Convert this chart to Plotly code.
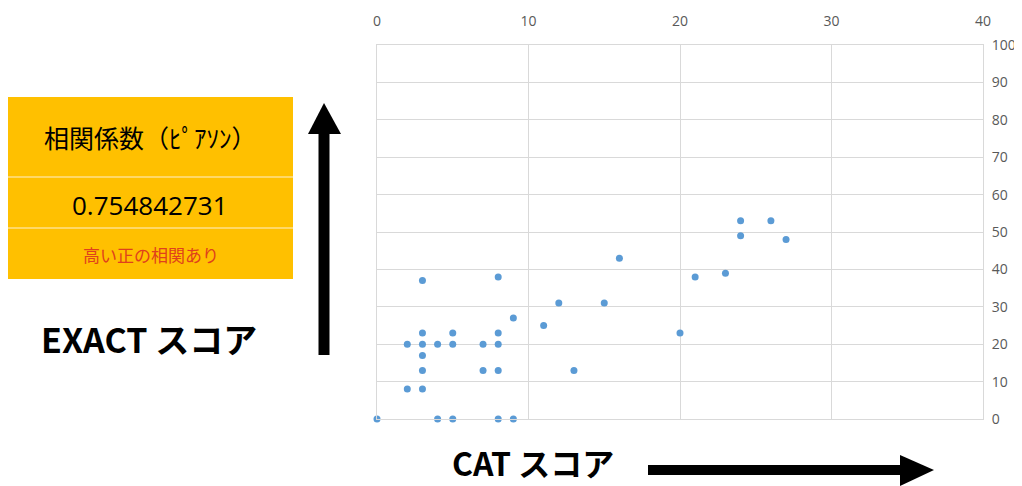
import plotly.graph_objects as go

# Data
cat_score = [0, 4, 5, 8, 9, 2, 3, 3, 7, 8, 13, 3, 2, 3, 4, 5, 7, 8, 3, 5, 8,
             9, 11, 12, 15, 20, 3, 8, 16, 21, 23, 24, 24, 26, 27]
exact_score = [0, 0, 0, 0, 0, 8, 8, 13, 13, 13, 13, 17, 20, 20, 20, 20, 20, 20, 23, 23, 23,
               27, 25, 31, 31, 23, 37, 38, 43, 38, 39, 53, 49, 53, 48]
x_ticks = [0, 10, 20, 30, 40]
y_ticks = [0, 10, 20, 30, 40, 50, 60, 70, 80, 90, 100]

table_title = "相関係数（ﾋﾟｱｿﾝ）"
table_value = "0.754842731"
table_note = "高い正の相関あり"
y_label = "EXACT スコア"
x_label = "CAT スコア"

# page body has an 8px margin: the figure is offset by 8px in the window
OFF = 8
W, H = 1022 - OFF, 486 - OFF
L, R, T, B = 377 - OFF, 47 - OFF, 45 - OFF, 67
PW, PH = W - L - R, H - T - B


def px(x):
    return (x - OFF - L) / PW


def py(y):
    return (H - B - (y - OFF)) / PH


fig = go.Figure()
fig.add_trace(go.Scatter(
    x=cat_score, y=exact_score, mode="markers",
    marker=dict(color="#5B9BD5", size=7),
    showlegend=False, hoverinfo="x+y", cliponaxis=False,
))

shapes = []
# table
shapes.append(dict(type="rect", xref="paper", yref="paper",
                   x0=px(8), x1=px(293), y0=py(279), y1=py(97),
                   fillcolor="#FFC000", line=dict(width=0), layer="above"))
for ys in (177, 228):
    shapes.append(dict(type="line", xref="paper", yref="paper",
                       x0=px(8), x1=px(293), y0=py(ys), y1=py(ys),
                       line=dict(color="#FFE08A", width=1.5), layer="above"))
# vertical arrow
shapes.append(dict(type="rect", xref="paper", yref="paper",
                   x0=px(318.5), x1=px(329.5), y0=py(355), y1=py(132),
                   fillcolor="black", line=dict(width=0), layer="above"))
shapes.append(dict(type="path", xref="paper", yref="paper",
                   path=f"M {px(308)} {py(134)} L {px(324)} {py(103)} L {px(341)} {py(134)} Z",
                   fillcolor="black", line=dict(width=0), layer="above"))
# horizontal arrow
shapes.append(dict(type="rect", xref="paper", yref="paper",
                   x0=px(648), x1=px(902), y0=py(475), y1=py(465),
                   fillcolor="black", line=dict(width=0), layer="above"))
shapes.append(dict(type="path", xref="paper", yref="paper",
                   path=f"M {px(900)} {py(455)} L {px(934)} {py(470)} L {px(900)} {py(486)} Z",
                   fillcolor="black", line=dict(width=0), layer="above"))

jp = "Noto Sans CJK JP"


def ann(text, x, y, family, size, color):
    return dict(text=text, x=px(x), y=py(y), xref="paper", yref="paper",
                xanchor="center", yanchor="middle", showarrow=False,
                font=dict(family=family, size=size, color=color))


annotations = [
    ann(table_title, 150, 137, jp, 25, "black"),
    ann(table_value, 150, 205, "Open Sans", 26, "black"),
    ann(table_note, 151, 254, jp, 17, "#E0401C"),
    ann(f"<b>{y_label}</b>", 149, 338, jp, 34, "black"),
    ann(f"<b>{x_label}</b>", 533, 462, jp, 32, "black"),
]

fig.update_layout(
    width=W, height=H,
    margin=dict(l=L, r=R, t=T, b=B, autoexpand=False),
    paper_bgcolor="white", plot_bgcolor="white",
    shapes=shapes, annotations=annotations,
    font=dict(family="Open Sans", color="#595959", size=14),
    xaxis=dict(range=[0, 40], side="top", tickvals=x_ticks,
               showgrid=True, gridcolor="#D9D9D9", gridwidth=1,
               showline=True, mirror=True, linecolor="#D9D9D9",
               zeroline=False, ticklabelstandoff=12,
               tickfont=dict(family="Open Sans", size=14, color="#595959")),
    yaxis=dict(range=[0, 100], side="right", tickvals=y_ticks,
               showgrid=True, gridcolor="#D9D9D9", gridwidth=1,
               showline=True, mirror=True, linecolor="#D9D9D9",
               zeroline=False, ticklabelstandoff=5,
               tickfont=dict(family="Open Sans", size=14, color="#595959")),
)

fig.write_html("out.html")
